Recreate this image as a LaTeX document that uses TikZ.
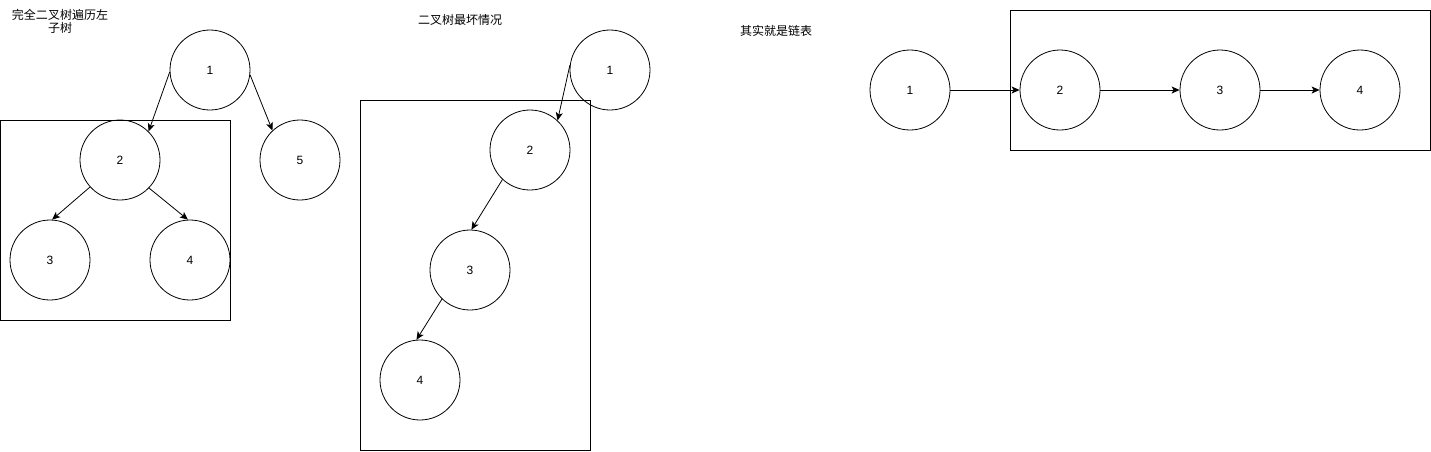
\documentclass[tikz,border=0pt]{standalone}
\usepackage{fontspec}
\setmainfont{Liberation Sans}
\newfontfamily\cjk{Noto Sans CJK SC}
\usetikzlibrary{arrows.meta}
\begin{document}
\begin{tikzpicture}[x=1pt,y=-1pt,line width=0.8pt,
    >={Stealth[length=8pt,width=7pt,inset=2pt]},
    vertex/.style={draw,circle,minimum size=80pt,inner sep=0pt,font=\fontsize{12}{13}\selectfont},
    caption/.style={align=center,font=\fontsize{12}{13}\selectfont\cjk}]
        \useasboundingbox (0,0) rectangle (1431,451);
        % Left: complete tree
        \node[caption] (capA) at (60,21) {完全二叉树遍历左\\子树};
        \draw (0,120) rectangle (230,320);
        \node[vertex] (a1) at (210,70) {1};
        \node[vertex] (a2) at (120,160) {2};
        \node[vertex] (a3) at (50,260) {3};
        \node[vertex] (a4) at (190,260) {4};
        \node[vertex] (a5) at (300,160) {5};
        \draw[->] (a1.183) -- (a2.45);
        \draw[->] (a1.-7) -- (a5.133);
        \draw[->] (a2.222) -- (a3.87);
        \draw[->] (a2.316) -- (a4.93);
        % Middle: worst case
        \node[caption] (capB) at (460,20) {二叉树最坏情况};
        \draw (360,100) rectangle (590,450);
        \node[vertex] (b1) at (610,70) {1};
        \node[vertex] (b2) at (530,150) {2};
        \node[vertex] (b3) at (470,270) {3};
        \node[vertex] (b4) at (420,380) {4};
        \draw[->] (b1.173) -- (b2.47);
        \draw[->] (b2.227) -- (b3.88);
        \draw[->] (b3.226) -- (b4.95);
        % Right: linked list
        \node[caption] (capC) at (776,31) {其实就是链表};
        \draw (1010,10) rectangle (1430,150);
        \node[vertex] (c1) at (910,90) {1};
        \node[vertex] (c2) at (1060,90) {2};
        \node[vertex] (c3) at (1220,90) {3};
        \node[vertex] (c4) at (1360,90) {4};
        \draw[->] (c1) -- (c2);
        \draw[->] (c2) -- (c3);
        \draw[->] (c3) -- (c4);
\end{tikzpicture}
\end{document}
